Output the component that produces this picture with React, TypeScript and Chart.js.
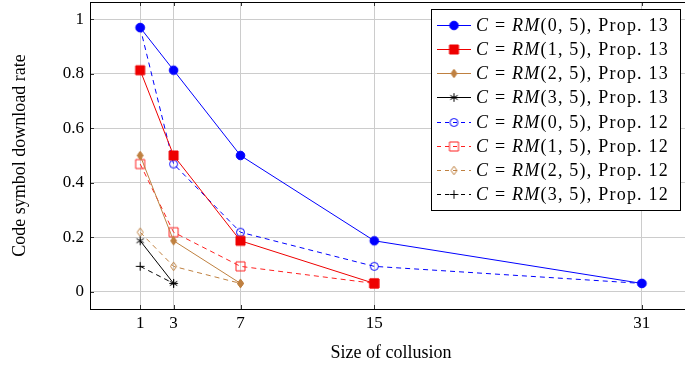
import React, { useEffect, useRef } from 'react';
import { Chart, registerables } from 'chart.js';

Chart.register(...registerables);

// ---- data ----
const xValues = [1, 3, 7, 15, 31];
const xTicks = [1, 3, 7, 15, 31];
const yTicks = [0, 0.2, 0.4, 0.6, 0.8, 1];

const prop13RM05 = [0.96875, 0.8125, 0.5, 0.1875, 0.03125];
const prop13RM15 = [0.8125, 0.5, 0.1875, 0.03125];
const prop13RM25 = [0.5, 0.1875, 0.03125];
const prop13RM35 = [0.1875, 0.03125];
const prop12RM05 = [0.96875, 0.46875, 0.21875, 0.09375, 0.03125];
const prop12RM15 = [0.46875, 0.21875, 0.09375, 0.03125];
const prop12RM25 = [0.21875, 0.09375, 0.03125];
const prop12RM35 = [0.09375, 0.03125];

const seriesCodes = ['(0, 5)', '(1, 5)', '(2, 5)', '(3, 5)', '(0, 5)', '(1, 5)', '(2, 5)', '(3, 5)'];
const seriesProps = ['13', '13', '13', '13', '12', '12', '12', '12'];
const seriesValues = [prop13RM05, prop13RM15, prop13RM25, prop13RM35, prop12RM05, prop12RM15, prop12RM25, prop12RM35];
const seriesColors = ['#0000ff', '#ee0000', '#bf8040', '#000000', '#0000ff', '#ff2020', '#bf8040', '#000000'];
const seriesMarkers = ['fcircle', 'fsquare', 'fdiamond', 'asterisk', 'ocircle', 'osquare', 'odiamond', 'plus'];
const seriesDashed = [false, false, false, false, true, true, true, true];

const FAM = '"Liberation Serif", "DejaVu Serif", serif';

function makeMarker(kind: string, color: string): HTMLCanvasElement {
  const s = 13;
  const c = document.createElement('canvas');
  c.width = s;
  c.height = s;
  const g = c.getContext('2d')!;
  const m = s / 2;
  g.strokeStyle = color;
  g.fillStyle = color;
  g.lineWidth = 1;
  g.beginPath();
  switch (kind) {
    case 'fcircle':
      g.arc(m, m, 4.3, 0, Math.PI * 2);
      g.fill();
      g.stroke();
      break;
    case 'ocircle':
      g.arc(m, m, 4, 0, Math.PI * 2);
      g.stroke();
      break;
    case 'fsquare':
      g.rect(m - 4.5, m - 4.5, 9, 9);
      g.fill();
      g.stroke();
      break;
    case 'osquare':
      g.rect(m - 4.5, m - 4.5, 9, 9);
      g.stroke();
      break;
    case 'fdiamond':
    case 'odiamond':
      g.moveTo(m, m - 4.3);
      g.lineTo(m + 3, m);
      g.lineTo(m, m + 4.3);
      g.lineTo(m - 3, m);
      g.closePath();
      if (kind === 'fdiamond') g.fill();
      g.stroke();
      break;
    case 'asterisk':
      for (let k = 0; k < 3; k++) {
        const a = Math.PI / 2 + (k * Math.PI) / 3;
        g.moveTo(m + Math.cos(a) * 4.3, m - Math.sin(a) * 4.3);
        g.lineTo(m - Math.cos(a) * 4.3, m + Math.sin(a) * 4.3);
      }
      g.stroke();
      break;
    case 'plus':
      g.moveTo(m - 4.3, m);
      g.lineTo(m + 4.3, m);
      g.moveTo(m, m - 4.3);
      g.lineTo(m, m + 4.3);
      g.stroke();
      break;
  }
  return c;
}

export default function App() {
  const ref = useRef<HTMLCanvasElement>(null);

  useEffect(() => {
    const canvas = ref.current!;
    const markers = seriesMarkers.map((k, i) => makeMarker(k, seriesColors[i]));

    const datasets = seriesValues.map((vals, i) => ({
      label: `C = RM${seriesCodes[i]}, Prop. ${seriesProps[i]}`,
      data: vals.map((v, j) => ({ x: xValues[j], y: v })),
      borderColor: seriesColors[i],
      backgroundColor: seriesColors[i],
      borderWidth: 1,
      borderDash: seriesDashed[i] ? [5, 4] : [],
      pointStyle: markers[i] as any,
      pointRadius: 5,
      tension: 0,
      fill: false,
    }));

    const framePlugin = {
      id: 'frameAndLegend',
      afterDraw(chart: any) {
        const ctx: CanvasRenderingContext2D = chart.ctx;
        const a = chart.chartArea;
        const xs = chart.scales.x;
        const ys = chart.scales.y;
        ctx.save();
        // tick marks
        ctx.strokeStyle = '#333';
        ctx.lineWidth = 1;
        ctx.beginPath();
        xTicks.forEach((t) => {
          const px = Math.round(xs.getPixelForValue(t)) + 0.5;
          ctx.moveTo(px, a.bottom);
          ctx.lineTo(px, a.bottom - 4);
          ctx.moveTo(px, a.top);
          ctx.lineTo(px, a.top + 4);
        });
        yTicks.forEach((t) => {
          const py = Math.round(ys.getPixelForValue(t)) + 0.5;
          ctx.moveTo(a.left, py);
          ctx.lineTo(a.left + 4, py);
        });
        ctx.stroke();
        // frame
        ctx.strokeStyle = '#000';
        ctx.strokeRect(Math.round(a.left) + 0.5, Math.round(a.top) + 0.5, Math.round(a.right - a.left), Math.round(a.bottom - a.top));

        // legend
        const lx0 = 431, ly0 = 9, lx1 = 680, ly1 = 210;
        ctx.fillStyle = '#fff';
        ctx.fillRect(lx0, ly0, lx1 - lx0, ly1 - ly0);
        ctx.strokeStyle = '#000';
        ctx.strokeRect(lx0 + 0.5, ly0 + 0.5, lx1 - lx0, ly1 - ly0);

        const fs = 18;
        const fIt = `italic ${fs}px ${FAM}`;
        const fRm = `${fs}px ${FAM}`;
        const targetW = 193;
        seriesCodes.forEach((code, i) => {
          const cy = 25 + i * 24.15;
          ctx.strokeStyle = seriesColors[i];
          ctx.lineWidth = 1;
          ctx.setLineDash(seriesDashed[i] ? [4, 4] : []);
          ctx.lineDashOffset = 0;
          ctx.beginPath();
          ctx.moveTo(437, Math.round(cy) + 0.5);
          ctx.lineTo(471, Math.round(cy) + 0.5);
          ctx.stroke();
          ctx.setLineDash([]);
          ctx.drawImage(markers[i], 454 - 6.5, Math.round(cy) + 0.5 - 6.5);

          const parts: [string, string][] = [
            ['C', fIt],
            [' = ', fRm],
            ['RM', fIt],
            [`${code}, Prop. ${seriesProps[i]}`, fRm],
          ];
          (ctx as any).letterSpacing = '0px';
          let w0 = 0;
          let nChars = 0;
          parts.forEach(([t, f]) => {
            ctx.font = f;
            w0 += ctx.measureText(t).width;
            nChars += t.length;
          });
          const ls = Math.max(0, (targetW - w0) / nChars);
          (ctx as any).letterSpacing = `${ls}px`;
          let x = 476;
          ctx.fillStyle = '#000';
          ctx.textBaseline = 'alphabetic';
          ctx.textAlign = 'left';
          parts.forEach(([t, f]) => {
            ctx.font = f;
            ctx.fillText(t, x, cy + 6);
            x += ctx.measureText(t).width;
          });
          (ctx as any).letterSpacing = '0px';
        });
        ctx.restore();
      },
    };

    const chart = new Chart(canvas, {
      type: 'line',
      data: { datasets: datasets as any },
      options: {
        animation: false,
        responsive: false,
        maintainAspectRatio: false,
        layout: { autoPadding: false, padding: { top: 2, right: 1, left: 0, bottom: 0 } },
        plugins: { legend: { display: false }, tooltip: { enabled: false } },
        scales: {
          x: {
            type: 'linear',
            min: -2,
            max: 34,
            afterBuildTicks: (s: any) => {
              s.ticks = xTicks.map((v) => ({ value: v }));
            },
            afterFit: (s: any) => {
              s.height = 59;
              s.paddingLeft = 0;
              s.paddingRight = 0;
            },
            ticks: {
              autoSkip: false,
              maxRotation: 0,
              padding: 4,
              color: '#000',
              font: { family: FAM, size: 17 },
              callback: (v: any) => String(v),
            },
            grid: { color: '#cccccc', drawTicks: false },
            border: { display: false },
            title: {
              display: true,
              text: 'Size of collusion',
              color: '#000',
              font: { family: FAM, size: 18 },
              padding: { top: 0, bottom: 4 },
            },
          },
          y: {
            type: 'linear',
            min: -0.0625,
            max: 1.0625,
            afterBuildTicks: (s: any) => {
              s.ticks = yTicks.map((v) => ({ value: v }));
            },
            afterFit: (s: any) => {
              s.width = 90;
              s.paddingTop = 0;
              s.paddingBottom = 0;
            },
            ticks: {
              padding: 6,
              color: '#000',
              font: { family: FAM, size: 17 },
              callback: (v: any) => String(v),
            },
            grid: { color: '#cccccc', drawTicks: false },
            border: { display: false },
            title: {
              display: true,
              text: 'Code symbol download rate',
              color: '#000',
              font: { family: FAM, size: 18 },
              padding: { top: 9, bottom: 0 },
            },
          },
        },
      },
      plugins: [framePlugin],
    });
    return () => chart.destroy();
  }, []);

  return (
    <div style={{ position: 'absolute', left: 0, top: 0, width: 685, height: 368, overflow: 'hidden', background: '#fff' }}>
      <canvas ref={ref} width={693} height={368} style={{ width: 693, height: 368, display: 'block' }} />
    </div>
  );
}
